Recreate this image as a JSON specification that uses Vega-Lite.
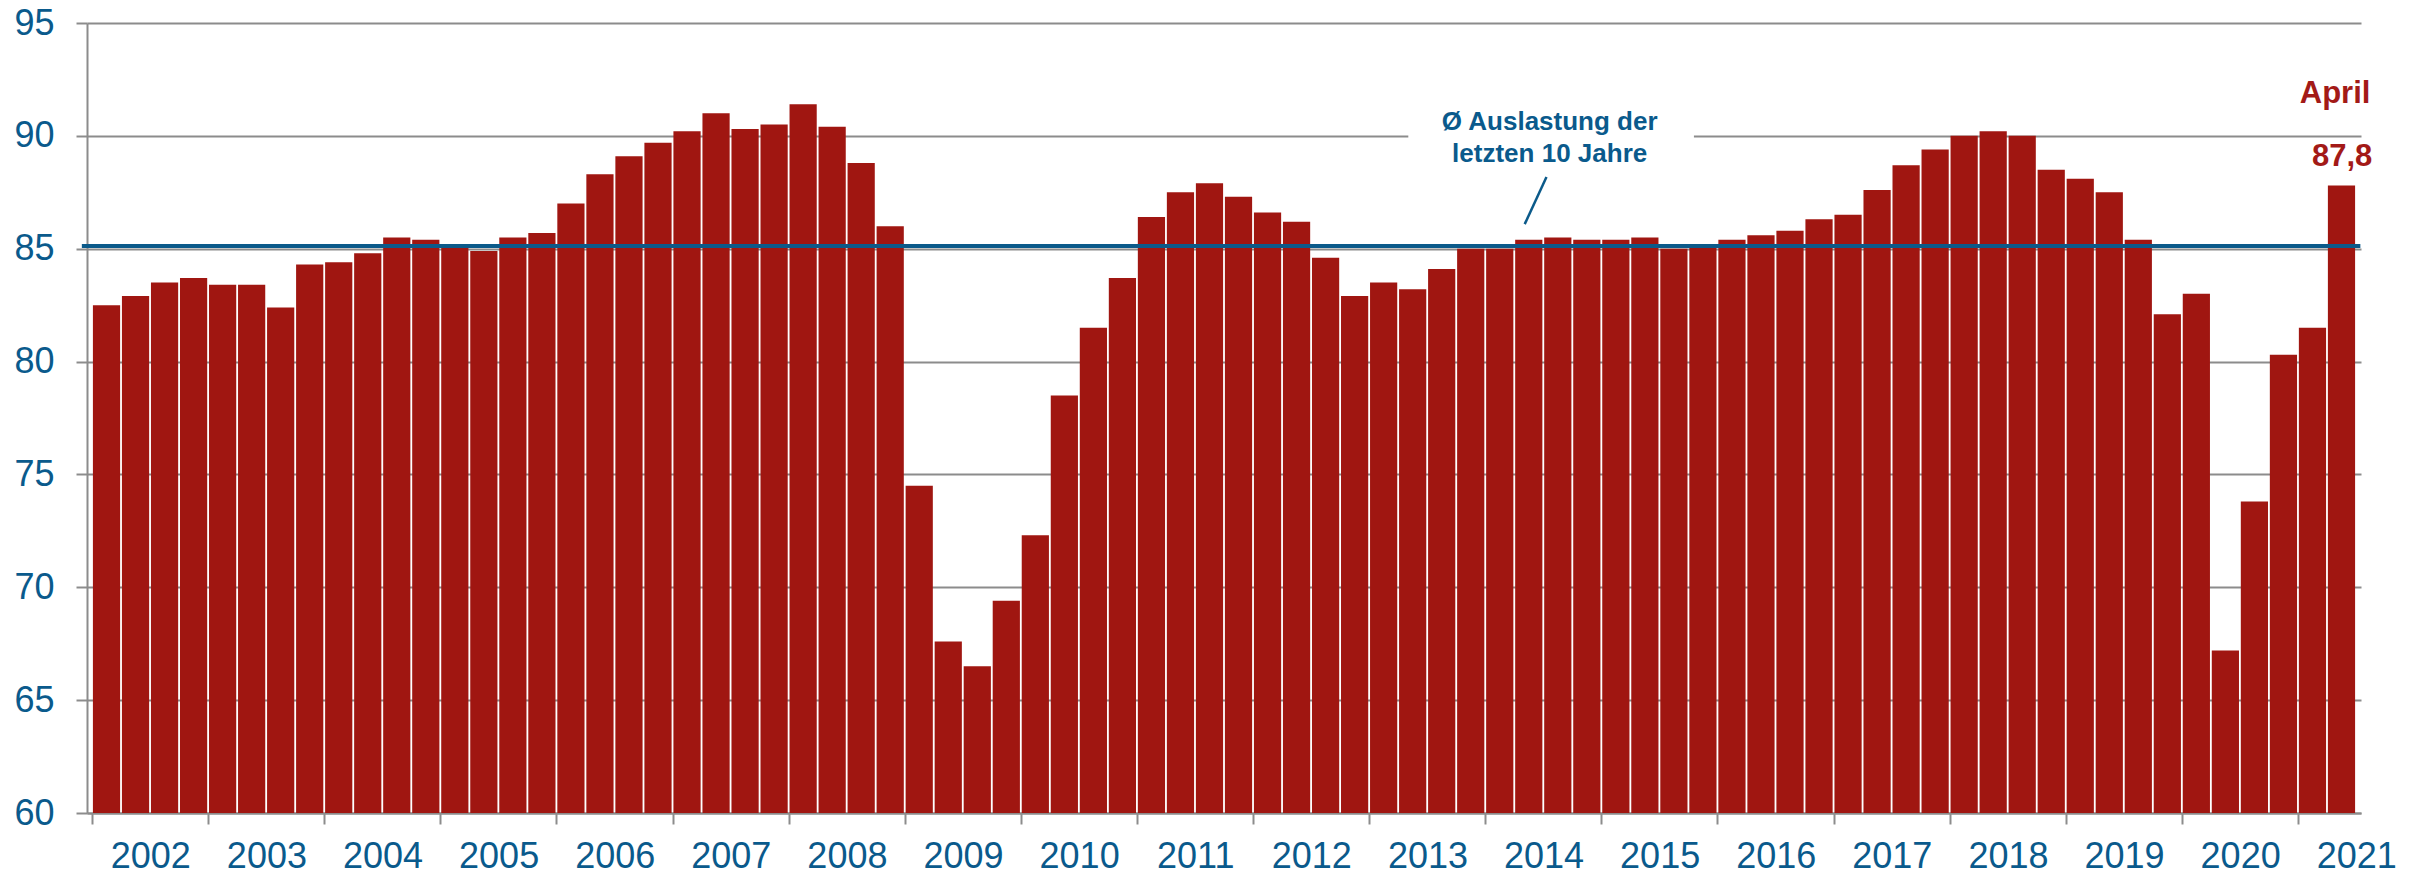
{
  "$schema": "https://vega.github.io/schema/vega-lite/v6.json",
  "width": 2274,
  "height": 790,
  "autosize": {"type": "none"},
  "padding": {"left": 87, "top": 23, "right": 68, "bottom": 62},
  "background": "white",
  "config": {"view": {"stroke": null}, "font": "Liberation Sans"},
  "datasets": {
    "bars": [
      {"i": 0, "period": "2002 Q1", "v": 82.5}, {"i": 1, "period": "2002 Q2", "v": 82.9}, {"i": 2, "period": "2002 Q3", "v": 83.5}, {"i": 3, "period": "2002 Q4", "v": 83.7},
      {"i": 4, "period": "2003 Q1", "v": 83.4}, {"i": 5, "period": "2003 Q2", "v": 83.4}, {"i": 6, "period": "2003 Q3", "v": 82.4}, {"i": 7, "period": "2003 Q4", "v": 84.3},
      {"i": 8, "period": "2004 Q1", "v": 84.4}, {"i": 9, "period": "2004 Q2", "v": 84.8}, {"i": 10, "period": "2004 Q3", "v": 85.5}, {"i": 11, "period": "2004 Q4", "v": 85.4},
      {"i": 12, "period": "2005 Q1", "v": 85.1}, {"i": 13, "period": "2005 Q2", "v": 84.9}, {"i": 14, "period": "2005 Q3", "v": 85.5}, {"i": 15, "period": "2005 Q4", "v": 85.7},
      {"i": 16, "period": "2006 Q1", "v": 87.0}, {"i": 17, "period": "2006 Q2", "v": 88.3}, {"i": 18, "period": "2006 Q3", "v": 89.1}, {"i": 19, "period": "2006 Q4", "v": 89.7},
      {"i": 20, "period": "2007 Q1", "v": 90.2}, {"i": 21, "period": "2007 Q2", "v": 91.0}, {"i": 22, "period": "2007 Q3", "v": 90.3}, {"i": 23, "period": "2007 Q4", "v": 90.5},
      {"i": 24, "period": "2008 Q1", "v": 91.4}, {"i": 25, "period": "2008 Q2", "v": 90.4}, {"i": 26, "period": "2008 Q3", "v": 88.8}, {"i": 27, "period": "2008 Q4", "v": 86.0},
      {"i": 28, "period": "2009 Q1", "v": 74.5}, {"i": 29, "period": "2009 Q2", "v": 67.6}, {"i": 30, "period": "2009 Q3", "v": 66.5}, {"i": 31, "period": "2009 Q4", "v": 69.4},
      {"i": 32, "period": "2010 Q1", "v": 72.3}, {"i": 33, "period": "2010 Q2", "v": 78.5}, {"i": 34, "period": "2010 Q3", "v": 81.5}, {"i": 35, "period": "2010 Q4", "v": 83.7},
      {"i": 36, "period": "2011 Q1", "v": 86.4}, {"i": 37, "period": "2011 Q2", "v": 87.5}, {"i": 38, "period": "2011 Q3", "v": 87.9}, {"i": 39, "period": "2011 Q4", "v": 87.3},
      {"i": 40, "period": "2012 Q1", "v": 86.6}, {"i": 41, "period": "2012 Q2", "v": 86.2}, {"i": 42, "period": "2012 Q3", "v": 84.6}, {"i": 43, "period": "2012 Q4", "v": 82.9},
      {"i": 44, "period": "2013 Q1", "v": 83.5}, {"i": 45, "period": "2013 Q2", "v": 83.2}, {"i": 46, "period": "2013 Q3", "v": 84.1}, {"i": 47, "period": "2013 Q4", "v": 85.0},
      {"i": 48, "period": "2014 Q1", "v": 85.0}, {"i": 49, "period": "2014 Q2", "v": 85.4}, {"i": 50, "period": "2014 Q3", "v": 85.5}, {"i": 51, "period": "2014 Q4", "v": 85.4},
      {"i": 52, "period": "2015 Q1", "v": 85.4}, {"i": 53, "period": "2015 Q2", "v": 85.5}, {"i": 54, "period": "2015 Q3", "v": 85.0}, {"i": 55, "period": "2015 Q4", "v": 85.1},
      {"i": 56, "period": "2016 Q1", "v": 85.4}, {"i": 57, "period": "2016 Q2", "v": 85.6}, {"i": 58, "period": "2016 Q3", "v": 85.8}, {"i": 59, "period": "2016 Q4", "v": 86.3},
      {"i": 60, "period": "2017 Q1", "v": 86.5}, {"i": 61, "period": "2017 Q2", "v": 87.6}, {"i": 62, "period": "2017 Q3", "v": 88.7}, {"i": 63, "period": "2017 Q4", "v": 89.4},
      {"i": 64, "period": "2018 Q1", "v": 90.0}, {"i": 65, "period": "2018 Q2", "v": 90.2}, {"i": 66, "period": "2018 Q3", "v": 90.0}, {"i": 67, "period": "2018 Q4", "v": 88.5},
      {"i": 68, "period": "2019 Q1", "v": 88.1}, {"i": 69, "period": "2019 Q2", "v": 87.5}, {"i": 70, "period": "2019 Q3", "v": 85.4}, {"i": 71, "period": "2019 Q4", "v": 82.1},
      {"i": 72, "period": "2020 Q1", "v": 83.0}, {"i": 73, "period": "2020 Q2", "v": 67.2}, {"i": 74, "period": "2020 Q3", "v": 73.8}, {"i": 75, "period": "2020 Q4", "v": 80.3},
      {"i": 76, "period": "2021 Q1", "v": 81.5}, {"i": 77, "period": "2021 April", "v": 87.8}
    ]
  },
  "layer": [
    {
      "data": {"name": "bars"},
      "mark": {"type": "bar", "width": 27.2, "color": "#A01611"},
      "encoding": {
        "x": {
          "field": "i", "type": "quantitative",
          "scale": {"domain": [-0.5, 77.5], "nice": false, "zero": false},
          "axis": {
            "title": null, "grid": false,
            "values": [-0.5, 3.5, 7.5, 11.5, 15.5, 19.5, 23.5, 27.5, 31.5, 35.5, 39.5, 43.5, 47.5, 51.5, 55.5, 59.5, 63.5, 67.5, 71.5, 75.5],
            "labelExpr": "'' + (2002 + (datum.value + 0.5) / 4)",
            "labelOffset": 58.3,
            "labelOverlap": false, "labelFlush": false, "labelBound": false,
            "tickSize": 11, "tickWidth": 2, "tickColor": "#8c8c8c",
            "domainColor": "#8c8c8c", "domainWidth": 2,
            "labelFontSize": 36, "labelColor": "#0A5A8C", "labelPadding": 15, "labelFont": "Liberation Sans"
          }
        },
        "y": {
          "field": "v", "type": "quantitative",
          "scale": {"domain": [60, 95], "nice": false, "zero": false},
          "axis": {
            "title": null, "grid": true, "gridColor": "#8c8c8c", "gridWidth": 2,
            "values": [60, 65, 70, 75, 80, 85, 90, 95],
            "tickSize": 11, "tickWidth": 2, "tickColor": "#8c8c8c",
            "domainColor": "#8c8c8c", "domainWidth": 2,
            "labelFontSize": 36, "labelColor": "#0A5A8C", "labelPadding": 22, "labelFont": "Liberation Sans"
          }
        },
        "y2": {"datum": 60}
      }
    },
    {
      "data": {"values": [{}]},
      "mark": {"type": "rect", "color": "white"},
      "encoding": {
        "x": {"datum": 44.85, "type": "quantitative"},
        "x2": {"datum": 54.69},
        "y": {"datum": 89.4, "type": "quantitative"},
        "y2": {"datum": 90.6}
      }
    },
    {
      "data": {"values": [{}]},
      "mark": {"type": "rule", "color": "#0B5A8A", "strokeWidth": 4},
      "encoding": {
        "x": {"datum": -0.85, "type": "quantitative"},
        "x2": {"datum": 77.65},
        "y": {"datum": 85.12, "type": "quantitative"}
      }
    },
    {
      "data": {"values": [{}]},
      "mark": {"type": "rule", "color": "#0B5A8A", "strokeWidth": 2.5},
      "encoding": {
        "x": {"datum": 49.61, "type": "quantitative"},
        "x2": {"datum": 48.86},
        "y": {"datum": 88.18, "type": "quantitative"},
        "y2": {"datum": 86.09}
      }
    },
    {
      "data": {"values": [{}]},
      "mark": {"type": "text", "text": ["Ø Auslastung der", "letzten 10 Jahre"], "align": "center", "baseline": "alphabetic", "lineHeight": 32, "fontSize": 26, "fontWeight": "bold", "color": "#0A5A8C", "font": "Liberation Sans"},
      "encoding": {
        "x": {"datum": 49.72, "type": "quantitative"},
        "y": {"datum": 90.26, "type": "quantitative"}
      }
    },
    {
      "data": {"values": [{}]},
      "mark": {"type": "text", "text": "April", "align": "center", "baseline": "alphabetic", "fontSize": 31, "fontWeight": "bold", "color": "#A31A17", "font": "Liberation Sans"},
      "encoding": {
        "x": {"datum": 76.78, "type": "quantitative"},
        "y": {"datum": 91.46, "type": "quantitative"}
      }
    },
    {
      "data": {"values": [{}]},
      "mark": {"type": "text", "text": "87,8", "align": "center", "baseline": "alphabetic", "fontSize": 31, "fontWeight": "bold", "color": "#A31A17", "font": "Liberation Sans"},
      "encoding": {
        "x": {"datum": 77.02, "type": "quantitative"},
        "y": {"datum": 88.66, "type": "quantitative"}
      }
    }
  ]
}
